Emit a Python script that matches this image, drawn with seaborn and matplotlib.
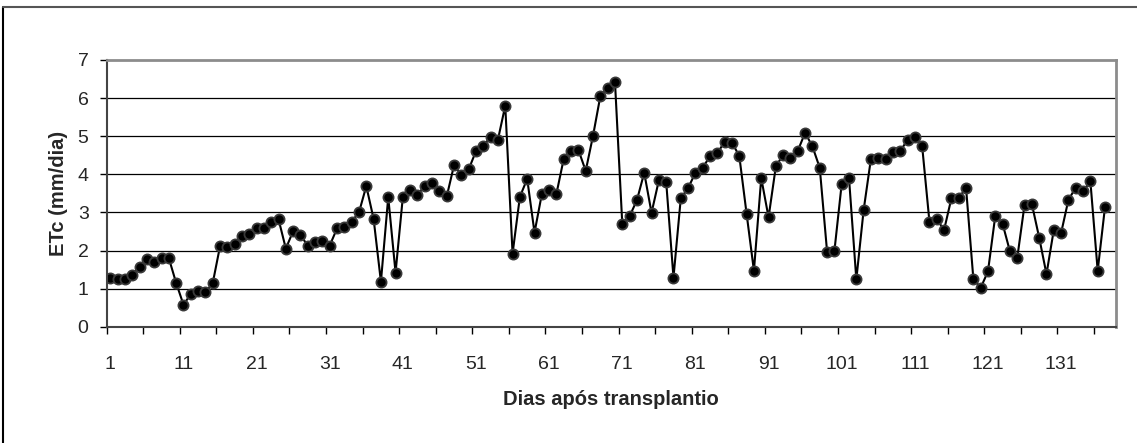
import seaborn as sns
import pandas as pd
import matplotlib.pyplot as plt
from matplotlib.lines import Line2D

# ETc (mm/dia) por dia após o transplantio
days = list(range(1, 138))
etc = [1.29, 1.26, 1.25, 1.37, 1.57, 1.78, 1.69, 1.81, 1.80, 1.15,
       0.58, 0.85, 0.94, 0.90, 1.14, 2.11, 2.10, 2.17, 2.39, 2.44,
       2.60, 2.58, 2.74, 2.82, 2.05, 2.51, 2.40, 2.13, 2.22, 2.26,
       2.13, 2.58, 2.62, 2.76, 3.00, 3.69, 2.83, 1.18, 3.40, 1.42,
       3.41, 3.59, 3.46, 3.70, 3.78, 3.57, 3.42, 4.24, 3.98, 4.13,
       4.61, 4.75, 4.98, 4.91, 5.80, 1.92, 3.41, 3.88, 2.47, 3.48,
       3.60, 3.49, 4.41, 4.62, 4.64, 4.09, 5.01, 6.05, 6.26, 6.43,
       2.70, 2.90, 3.32, 4.04, 2.99, 3.84, 3.81, 1.29, 3.37, 3.64,
       4.04, 4.17, 4.48, 4.55, 4.86, 4.83, 4.48, 2.96, 1.47, 3.90,
       2.87, 4.21, 4.51, 4.43, 4.62, 5.09, 4.73, 4.17, 1.97, 1.98,
       3.75, 3.90, 1.24, 3.06, 4.41, 4.42, 4.41, 4.59, 4.61, 4.90,
       4.98, 4.74, 2.75, 2.82, 2.54, 3.37, 3.37, 3.65, 1.26, 1.02,
       1.45, 2.91, 2.70, 1.98, 1.80, 3.20, 3.22, 2.34, 1.38, 2.54,
       2.46, 3.33, 3.65, 3.55, 3.82, 1.47, 3.14]
x_labels = list(range(1, 132, 10))
y_ticks = list(range(0, 8))

df = pd.DataFrame({'dia': days, 'etc': etc})

sns.set_style('white')
plt.rcParams['font.family'] = ['Liberation Sans', 'DejaVu Sans']

fig = plt.figure(figsize=(11.37, 4.43), dpi=100)
ax = fig.add_axes([0.0938, 0.2625, 0.8877, 0.6021])

sns.lineplot(x='dia', y='etc', data=df, ax=ax, color='black', linewidth=1.5,
             marker='o', markersize=7.3, markerfacecolor='black',
             markeredgecolor='#3a3a3a', markeredgewidth=1.3)

ax.set_xlim(0.5, 138.5)
ax.set_ylim(0, 7)
ax.set_yticks(y_ticks)
ax.set_xticks(x_labels)
ax.set_xticks([0.5 + 5 * i for i in range(28)], minor=True)
ax.tick_params(axis='x', which='major', length=0, pad=21, labelsize=14)
ax.tick_params(axis='x', which='minor', length=5, width=1, color='black',
               direction='out', bottom=True)
ax.tick_params(axis='y', length=5, width=1, color='black', direction='out',
               left=True, pad=8, labelsize=14)

for y in y_ticks[1:-1]:
    ax.axhline(y, color='black', linewidth=0.9, zorder=0)

for side in ['top', 'right']:
    ax.spines[side].set_color('#8c8c8c')
    ax.spines[side].set_linewidth(2)
for side in ['left', 'bottom']:
    ax.spines[side].set_color('#444444')
    ax.spines[side].set_linewidth(1.5)

ax.set_xlabel('Dias após transplantio', fontsize=14.5, fontweight='bold',
              labelpad=12)
ax.set_ylabel('ETc (mm/dia)', fontsize=14.5, fontweight='bold', labelpad=7)

# moldura externa do gráfico
fig.add_artist(Line2D([3 / 1137, 3 / 1137], [0, 1 - 7 / 443],
                      transform=fig.transFigure, color='black', linewidth=1.5))
fig.add_artist(Line2D([3 / 1137, 1], [1 - 7 / 443, 1 - 7 / 443],
                      transform=fig.transFigure, color='#555555', linewidth=1.5))

plt.savefig('out.png', dpi=100)
